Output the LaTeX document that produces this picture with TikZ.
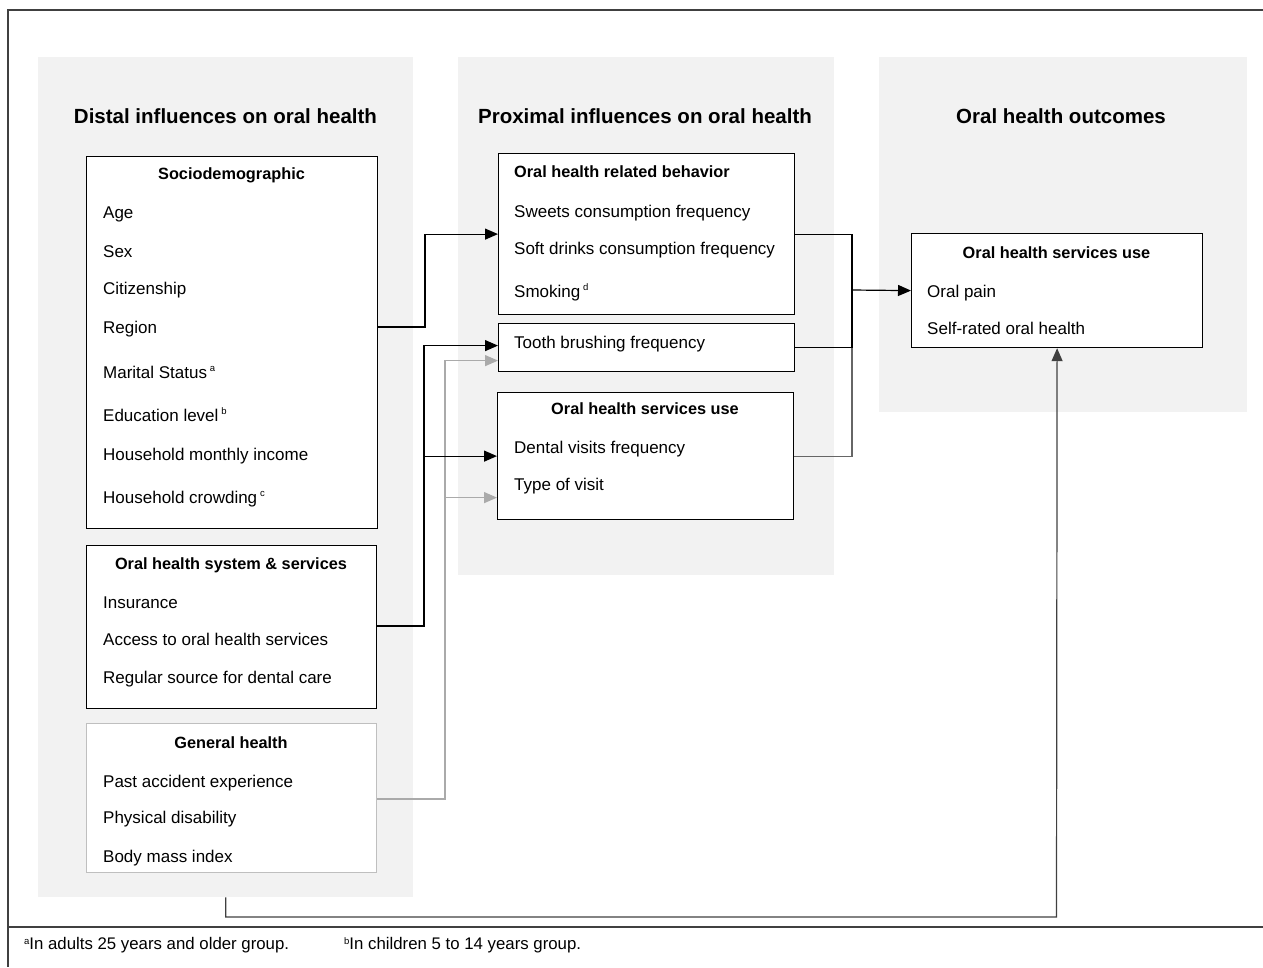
\documentclass[tikz,border=0pt]{standalone}
\usepackage{fontspec}
\setmainfont{Liberation Sans}
\usepackage{tikz}
\usetikzlibrary{positioning,arrows.meta}
\definecolor{panelgray}{RGB}{242,242,242}
\definecolor{lightline}{RGB}{170,170,170}
\definecolor{boxgray}{RGB}{191,191,191}
\definecolor{framegray}{RGB}{64,64,64}
\newcommand{\fnsup}[1]{\,\raisebox{7pt}{\fontsize{9.5}{9.5}\selectfont #1}}

\begin{document}
\begin{tikzpicture}[x=1pt,y=-1pt,
  panel/.style={fill=panelgray,draw=none,anchor=north west,inner sep=0pt},
  box/.style={draw=black,fill=white,line width=1.2pt,anchor=north west,inner sep=0pt},
  title/.style={anchor=base,font=\fontsize{20.5}{24}\selectfont\bfseries},
  head/.style={anchor=base,font=\fontsize{16.3}{19}\selectfont\bfseries},
  item/.style={anchor=base west,inner xsep=0pt,font=\fontsize{17}{20}\selectfont},
  note/.style={anchor=base west,inner xsep=0pt,font=\fontsize{16.8}{20}\selectfont},
  line/.style={line width=1.2pt},
  conn/.style={line width=1.2pt,-{Triangle[length=13pt,width=11pt]}}]
\useasboundingbox (0,0) rectangle (1263,967);
\draw [line,framegray] (1263,10) -- (8,10) -- (8,967);
\draw [line,framegray] (8,927) -- (1263,927);

\node [panel,minimum width=375pt,minimum height=840pt] (distal) at (38,57) {};
\node [panel,minimum width=376pt,minimum height=518pt] (proximal) at (458,57) {};
\node [panel,minimum width=368pt,minimum height=355pt] (outcomes) at (879,57) {};

\node [title] (tDistal) at (225.5,123) {Distal influences on oral health};
\node [title] (tProximal) at (645,123) {Proximal influences on oral health};
\node [title] (tOutcomes) at (1061,123) {Oral health outcomes};

\node [box,minimum width=291pt,minimum height=372pt] (socio) at (86,156) {};
\node [head] (hSocio) at (231.5,179) {Sociodemographic};
\node [item] (age) at (103,218) {Age};
\node [item] (sex) at (103,257) {Sex};
\node [item] (citizen) at (103,294) {Citizenship};
\node [item] (region) at (103,333) {Region};
\node [item] (marital) at (103,378) {Marital Status\fnsup{a}};
\node [item] (educ) at (103,421) {Education level\fnsup{b}};
\node [item] (income) at (103,460) {Household monthly income};
\node [item] (crowd) at (103,503) {Household crowding\fnsup{c}};

\node [box,minimum width=290pt,minimum height=163pt] (ohs) at (86,545) {};
\node [head] (hOhs) at (231,569) {Oral health system \& services};
\node [item] (insur) at (103,608) {Insurance};
\node [item] (access) at (103,645) {Access to oral health services};
\node [item] (regular) at (103,683) {Regular source for dental care};

\node [box,draw=boxgray,minimum width=290pt,minimum height=149pt] (gen) at (86,723) {};
\node [head] (hGen) at (231,748) {General health};
\node [item] (accid) at (103,787) {Past accident experience};
\node [item] (disab) at (103,823) {Physical disability};
\node [item] (bmi) at (103,862) {Body mass index};

\node [box,minimum width=296pt,minimum height=161pt] (behav) at (498,153) {};
\node [head,anchor=base west,inner xsep=0pt] (hBehav) at (514,177) {Oral health related behavior};
\node [item] (sweets) at (514,217) {Sweets consumption frequency};
\node [item] (soft) at (514,254) {Soft drinks consumption frequency};
\node [item] (smoke) at (514,297) {Smoking\fnsup{d}};

\node [box,minimum width=296pt,minimum height=48pt] (tooth) at (498,323) {};
\node [item] (brush) at (514,348) {Tooth brushing frequency};

\node [box,minimum width=296pt,minimum height=127pt] (serv) at (497,392) {};
\node [head] (hServ) at (645,414) {Oral health services use};
\node [item] (dental) at (514,453) {Dental visits frequency};
\node [item] (visit) at (514,490) {Type of visit};

\node [box,minimum width=291pt,minimum height=114pt] (outc) at (911,233) {};
\node [head] (hOutc) at (1056.5,258) {Oral health services use};
\node [item] (pain) at (927,297) {Oral pain};
\node [item] (selfrated) at (927,334) {Self-rated oral health};

\node [note] (noteA) at (24,949) {\raisebox{5pt}{\fontsize{9.5}{9.5}\selectfont a}In adults 25 years and older group.};
\node [note] (noteB) at (344,949) {\raisebox{5pt}{\fontsize{9.5}{9.5}\selectfont b}In children 5 to 14 years group.};

\coordinate (jSoc) at (425,327);
\coordinate (jOhs) at (424,626);
\coordinate (jGen) at (445,799);
\coordinate (jMerge) at (852,290);
\coordinate (jBot) at (1056.5,917);
\coordinate (toothHi) at ([yshift=2pt]tooth.west);
\coordinate (toothLow) at ([yshift=-13pt]tooth.west);
\coordinate (servLow) at ([yshift=-41.5pt]serv.west);

\draw [conn,lightline] (gen.east |- jGen) -- (jGen) |- (toothLow);
\draw [conn,lightline] (jGen |- servLow) -- (servLow);
\draw [conn] (socio.east |- jSoc) -- (jSoc) |- (behav.west);
\draw [conn] (ohs.east |- jOhs) -- (jOhs) |- (toothHi);
\draw [conn] (jOhs |- serv.west) -- (serv.west);

\draw [line,black!60] (serv.east) -| (jMerge);
\draw [line] (behav.east) -| (jMerge);
\draw [line] (tooth.east) -| (jMerge);
\draw [conn] (jMerge) -- (outc.west);
\draw [conn,black!75] (distal.south) |- (jBot) -- (outc.south);
\end{tikzpicture}
\end{document}
